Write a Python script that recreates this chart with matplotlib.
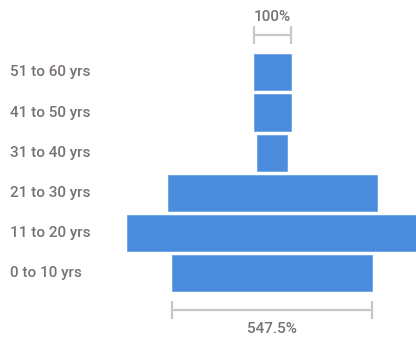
import matplotlib
matplotlib.use("Agg")
import matplotlib.pyplot as plt
from matplotlib.transforms import blended_transform_factory

# Age groups, top of the funnel first
categories = ["51 to 60 yrs", "41 to 50 yrs", "31 to 40 yrs",
              "21 to 30 yrs", "11 to 20 yrs", "0 to 10 yrs"]
values = [40, 41, 33, 228, 319, 219]

bar_color = "#4a8bdc"
text_color = "#77726e"
bracket_color = "#c8c8c8"

W, H = 416, 341
fig = plt.figure(figsize=(W / 100, H / 100), dpi=100)

vmax = max(values)
# axes spans the widest bar; rows spaced evenly
left_px, right_px = 126.7, 418.1
top_px, bot_px = 52.2, 293.4
ax = fig.add_axes([left_px / W, 1 - bot_px / H,
                   (right_px - left_px) / W, (bot_px - top_px) / H])
ax.set_xlim(-vmax / 2, vmax / 2)
ax.set_ylim(len(values) - 0.5, -0.5)
ax.axis("off")

ys = list(range(len(values)))
ax.barh(ys, values, left=[-v / 2 for v in values], height=0.9,
        color=bar_color, edgecolor="#6aa3e6", linewidth=0.6)

font = "Roboto"
fs = 11
lab_tr = blended_transform_factory(fig.transFigure, ax.transData)
for y, c in zip(ys, categories):
    ax.text(10 / W, y, c, transform=lab_tr, ha="left", va="center",
            fontsize=fs, fontweight="medium", color=text_color,
            family=font, clip_on=False)

def bracket(v, y, ty, label):
    tick = 0.22
    ax.plot([-v / 2, v / 2], [y, y], color=bracket_color, lw=1.6,
            clip_on=False, solid_capstyle="butt")
    for x in (-v / 2, v / 2):
        ax.plot([x, x], [y - tick, y + tick], color=bracket_color, lw=1.6,
                clip_on=False, solid_capstyle="butt")
    ax.text(0, ty, label, ha="center", va="center", fontsize=fs,
            fontweight="medium", color=text_color, family=font,
            clip_on=False)

first, last = values[0], values[-1]
bracket(first, -0.928, -1.37, f"{first / first * 100:.0f}%")
bracket(last, 5.913, 6.385, f"{last / first * 100:.1f}%")

fig.savefig("out.png", dpi=100)
